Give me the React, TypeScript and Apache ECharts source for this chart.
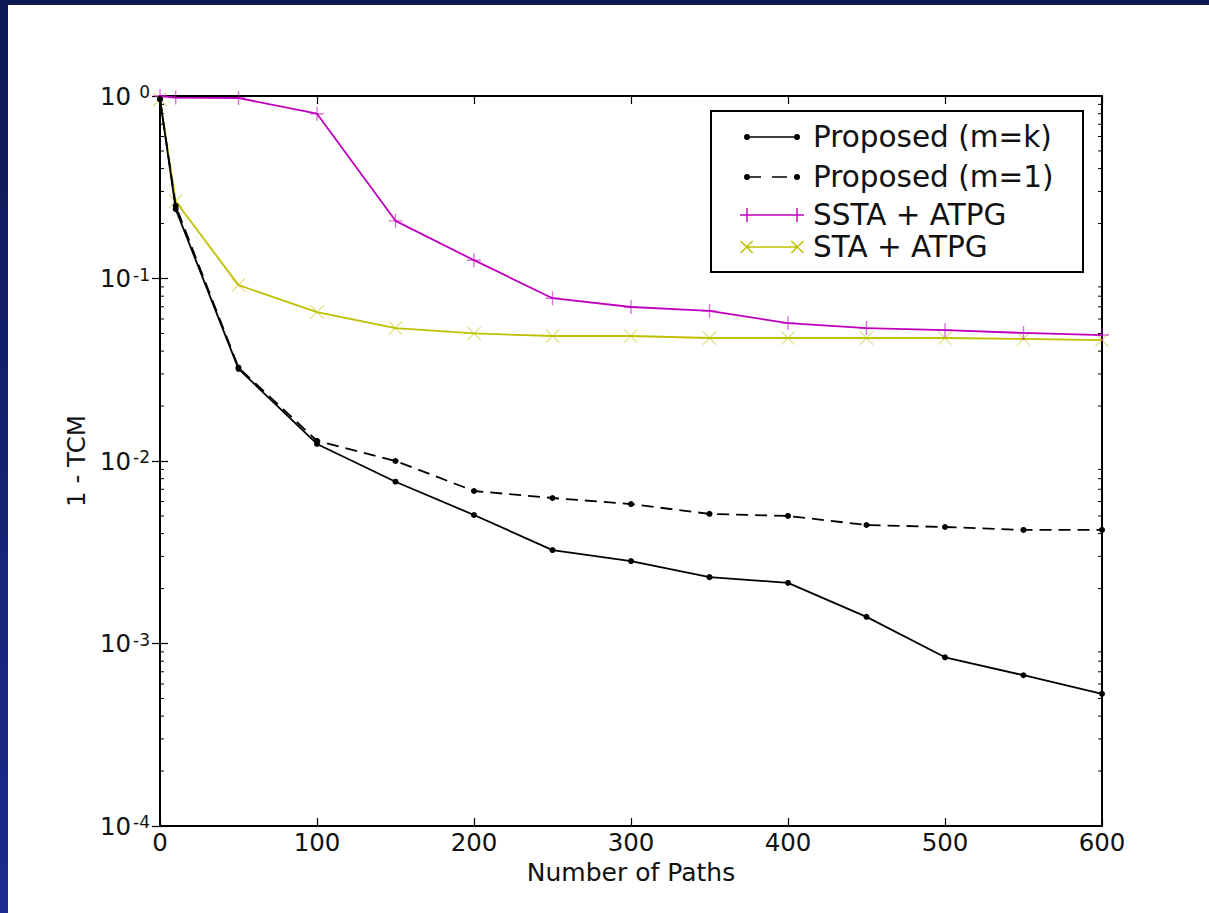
import React, { useEffect, useRef } from "react";
import * as echarts from "echarts";

const FONT = "DejaVu Sans";

const xValues = [0, 10, 50, 100, 150, 200, 250, 300, 350, 400, 450, 500, 550, 600];
const proposedMk = [0.96, 0.24, 0.032, 0.0124, 0.0077, 0.00506, 0.00325, 0.00283, 0.00231, 0.00215, 0.0014, 0.00084, 0.00067, 0.00053];
const proposedM1 = [0.96, 0.25, 0.0325, 0.0129, 0.0100, 0.00685, 0.00627, 0.00581, 0.00513, 0.00500, 0.00446, 0.00435, 0.00419, 0.00419];
const sstaAtpg = [1.0, 0.98, 0.975, 0.80, 0.207, 0.126, 0.078, 0.0698, 0.0664, 0.057, 0.0535, 0.0522, 0.0503, 0.049];
const staAtpg = [0.96, 0.265, 0.092, 0.0655, 0.0535, 0.050, 0.0484, 0.0484, 0.0472, 0.0472, 0.0472, 0.0472, 0.0467, 0.046];

const seriesNames = ["Proposed (m=k)", "Proposed (m=1)", "SSTA + ATPG", "STA + ATPG"];
const xTicks = [0, 100, 200, 300, 400, 500, 600];

const MAGENTA = "#bf00bf";
const YELLOW = "#bfbf00";

const PLUS = "path://M0,9 H20 V11 H0 Z M9,0 H11 V20 H9 Z";
const CROSS = "path://M1.2,0.2 L19.8,18.8 L18.8,19.8 L0.2,1.2 Z M1.2,19.8 L0.2,18.8 L18.8,0.2 L19.8,1.2 Z";

function circ(cx: number, cy: number, r: number) {
  return `M${cx - r},${cy} A${r},${r} 0 1,1 ${cx + r},${cy} A${r},${r} 0 1,1 ${cx - r},${cy} Z`;
}
const ICON_SOLID = `path://${circ(3, 3, 3)} M6,2.3 H50 V3.7 H6 Z ${circ(53, 3, 3)}`;
const ICON_DASH = `path://${circ(3, 3, 3)} M6,2.3 H17 V3.7 H6 Z M28,2.3 H43 V3.7 H28 Z ${circ(53, 3, 3)}`;
const ICON_PLUS = "path://M0,6.3 H14 V7.7 H0 Z M6.3,0 H7.7 V14 H6.3 Z M7,6.3 H57 V7.7 H7 Z M50,6.3 H64 V7.7 H50 Z M56.3,0 H57.7 V14 H56.3 Z";
function xMark(cx: number, cy: number) {
  return `M${cx - 5.5},${cy - 6.5} L${cx + 6.5},${cy + 5.5} L${cx + 5.5},${cy + 6.5} L${cx - 6.5},${cy - 5.5} Z ` +
    `M${cx - 5.5},${cy + 6.5} L${cx - 6.5},${cy + 5.5} L${cx + 5.5},${cy - 6.5} L${cx + 6.5},${cy - 5.5} Z`;
}
const ICON_CROSS = `path://${xMark(7, 7)} M7,6.3 H57 V7.7 H7 Z ${xMark(57, 7)}`;

function pairs(ys: number[]) {
  return xValues.map((x, i) => [x, ys[i]]);
}

export default function App() {
  const ref = useRef<HTMLDivElement>(null);
  useEffect(() => {
    if (!ref.current) return;
    const chart = echarts.init(ref.current, undefined, { renderer: "svg" });

    const minorTicks: number[][] = [];
    for (let e = -4; e < 0; e++) {
      for (let d = 2; d <= 9; d++) minorTicks.push([0, d * Math.pow(10, e)]);
    }

    const legendRow = (name: string, icon: string, top: number, left: number, w: number, h: number, padLeft: number, color: string) => ({
      show: true,
      left,
      top,
      orient: "horizontal",
      padding: 0,
      itemWidth: w,
      itemHeight: h,
      itemGap: 0,
      selectedMode: false,
      textStyle: { fontFamily: FONT, fontSize: 29.5, color: "#111", padding: [0, 0, 0, padLeft] },
      data: [{ name, icon, itemStyle: { color, borderWidth: 0, opacity: 1 } }],
    });

    const axisLabelRich = {
      b: { fontFamily: FONT, fontSize: 24.5, color: "#111", lineHeight: 25, verticalAlign: "bottom" },
      s: { fontFamily: FONT, fontSize: 17, color: "#111", lineHeight: 17, verticalAlign: "top", padding: [0, 0, 18, 2] },
      z: { fontFamily: FONT, fontSize: 17, color: "#111", lineHeight: 17, verticalAlign: "top", padding: [0, 0, 18, 8] },
    };

    chart.setOption({
      animation: false,
      backgroundColor: "transparent",
      grid: {
        left: 160,
        top: 96,
        right: 107,
        bottom: 87,
        show: true,
        borderColor: "#000",
        borderWidth: 2,
        backgroundColor: "#fff",
        containLabel: false,
      },
      legend: [
        legendRow(seriesNames[0], ICON_SOLID, 122, 744, 56, 6, 8, "#000"),
        legendRow(seriesNames[1], ICON_DASH, 162, 744, 56, 6, 8, "#000"),
        legendRow(seriesNames[2], ICON_PLUS, 200, 740, 64, 14, 4, MAGENTA),
        legendRow(seriesNames[3], ICON_CROSS, 232, 740, 64, 14, 4, YELLOW),
      ],
      graphic: [
        {
          type: "rect",
          left: 710,
          top: 110,
          shape: { width: 372, height: 161 },
          style: { fill: "transparent", stroke: "#000", lineWidth: 2 },
          z: 100,
        },
      ],
      xAxis: [
        {
          type: "value",
          min: 0,
          max: 600,
          interval: 100,
          position: "bottom",
          name: "Number of Paths",
          nameLocation: "middle",
          nameGap: 33,
          nameTextStyle: { fontFamily: FONT, fontSize: 25, color: "#111" },
          axisLine: { show: false },
          axisTick: { show: true, inside: true, length: 8, lineStyle: { color: "#000", width: 1.2 } },
          axisLabel: {
            fontFamily: FONT,
            fontSize: 24.5,
            color: "#111",
            margin: 4,
            customValues: xTicks,
            formatter: (v: number) => String(v),
          },
          splitLine: { show: false },
        },
        {
          type: "value",
          min: 0,
          max: 600,
          interval: 100,
          position: "top",
          axisLine: { show: false },
          axisTick: { show: true, inside: true, length: 8, lineStyle: { color: "#000", width: 1.2 } },
          axisLabel: { show: false },
          splitLine: { show: false },
        },
      ],
      yAxis: [
        {
          type: "log",
          logBase: 10,
          min: 1e-4,
          max: 1,
          position: "left",
          name: "1 - TCM",
          nameLocation: "middle",
          nameGap: 70,
          nameTextStyle: { fontFamily: FONT, fontSize: 24.5, color: "#111" },
          axisLine: { show: false },
          axisTick: { show: true, inside: true, length: 8, lineStyle: { color: "#000", width: 1.2 } },
          axisLabel: {
            margin: 10,
            fontFamily: FONT,
            fontSize: 24.5,
            color: "#111",
            formatter: (v: number) => {
              const e = Math.round(Math.log10(v));
              return e === 0 ? `{b|10}{z|0}` : `{b|10}{s|${e}}`;
            },
            rich: axisLabelRich,
          },
          splitLine: { show: false },
        },
        {
          type: "log",
          logBase: 10,
          min: 1e-4,
          max: 1,
          position: "right",
          axisLine: { show: false },
          axisTick: { show: true, inside: true, length: 8, lineStyle: { color: "#000", width: 1.2 } },
          axisLabel: { show: false },
          splitLine: { show: false },
        },
      ],
      series: [
        {
          type: "custom",
          silent: true,
          xAxisIndex: 0,
          yAxisIndex: 0,
          clip: false,
          data: minorTicks,
          renderItem: (params: any, api: any) => {
            const v = api.value(1);
            const pl = api.coord([0, v]);
            const pr = api.coord([600, v]);
            return {
              type: "group",
              children: [
                { type: "line", shape: { x1: pl[0], y1: pl[1], x2: pl[0] + 4, y2: pl[1] }, style: { stroke: "#000", lineWidth: 1 } },
                { type: "line", shape: { x1: pr[0] - 4, y1: pr[1], x2: pr[0], y2: pr[1] }, style: { stroke: "#000", lineWidth: 1 } },
              ],
            };
          },
          z: 1,
        },
        {
          name: seriesNames[0],
          type: "line",
          data: pairs(proposedMk),
          symbol: "circle",
          symbolSize: 6,
          showAllSymbol: true,
          itemStyle: { color: "#000" },
          lineStyle: { color: "#000", width: 1.8 },
          z: 5,
        },
        {
          name: seriesNames[1],
          type: "line",
          data: pairs(proposedM1),
          symbol: "circle",
          symbolSize: 6,
          showAllSymbol: true,
          itemStyle: { color: "#000" },
          lineStyle: { color: "#000", width: 1.8, type: [12, 7] },
          z: 4,
        },
        {
          name: seriesNames[2],
          type: "line",
          data: pairs(sstaAtpg),
          symbol: PLUS,
          symbolSize: 14,
          showAllSymbol: true,
          itemStyle: { color: MAGENTA, opacity: 0.55 },
          lineStyle: { color: MAGENTA, width: 1.8 },
          z: 3,
        },
        {
          name: seriesNames[3],
          type: "line",
          data: pairs(staAtpg),
          symbol: CROSS,
          symbolSize: 14,
          showAllSymbol: true,
          itemStyle: { color: YELLOW, opacity: 0.6 },
          lineStyle: { color: YELLOW, width: 1.8 },
          z: 2,
        },
      ],
    });
    return () => chart.dispose();
  }, []);

  return (
    <div style={{ position: "absolute", left: 0, top: 0, width: 1209, height: 913, background: "#fff", overflow: "hidden" }}>
      <div style={{ position: "absolute", left: 0, top: 0, width: 1209, height: 5, background: "#0e1852" }} />
      <div
        style={{
          position: "absolute",
          left: 0,
          top: 0,
          width: 8,
          height: 913,
          background: "linear-gradient(to bottom, #0e1852, #1c2b8e)",
        }}
      />
      <div ref={ref} style={{ position: "absolute", left: 0, top: 0, width: 1209, height: 913 }} />
    </div>
  );
}
